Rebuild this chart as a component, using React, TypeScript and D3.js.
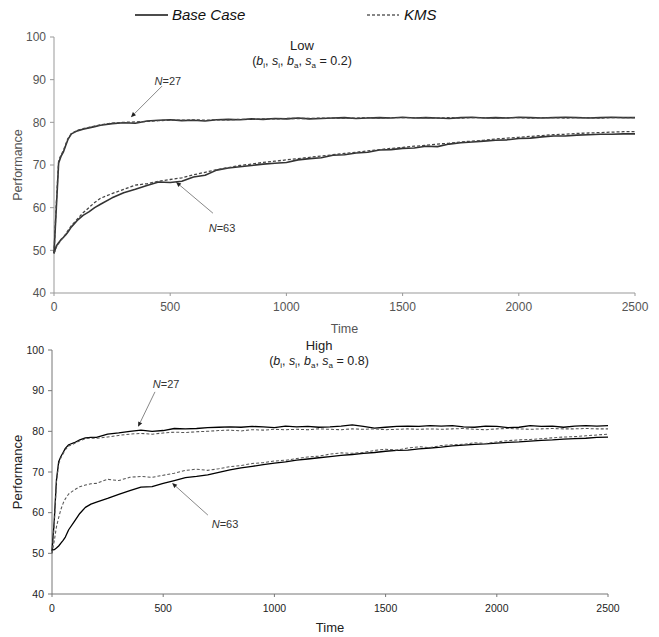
import React from "react";
import * as d3 from "d3";

const times = [0,10,20,30,40,50,60,75,100,125,150,175,200,250,300,350,400,450,500,550,600,650,700,750,800,850,900,950,1000,1050,1100,1150,1200,1250,1300,1350,1400,1450,1500,1550,1600,1650,1700,1750,1800,1850,1900,1950,2000,2050,2100,2150,2200,2250,2300,2350,2400,2450,2500];

const xTicks = [0, 500, 1000, 1500, 2000, 2500];
const yTicks = [40, 50, 60, 70, 80, 90, 100];

// Low panel
const low27Base = [49.3,60,70.5,72,73,74.5,76,77.3,78,78.4,78.7,79,79.3,79.7,79.9,79.8,80.3,80.5,80.6,80.4,80.5,80.3,80.6,80.7,80.6,80.8,80.7,80.9,80.8,81.0,80.8,80.9,81.0,81.1,80.9,81.0,81.1,81.0,81.2,81.0,81.1,81.0,80.9,81.1,81.2,81.0,81.1,81.0,81.2,81.1,81.0,81.1,81.2,81.1,81.0,81.1,81.2,81.1,81.1];
const low27Kms = [49.3,61,71,72.3,73.3,74.8,76.2,77.4,78.1,78.5,78.8,79.1,79.4,79.8,80.0,80.1,80.2,80.4,80.5,80.5,80.6,80.5,80.6,80.6,80.7,80.7,80.8,80.8,80.9,80.9,80.9,81.0,81.0,81.0,81.0,81.1,81.0,81.1,81.1,81.1,81.1,81.0,81.1,81.0,81.1,81.1,81.0,81.1,81.1,81.0,81.1,81.1,81.0,81.1,81.1,81.0,81.1,81.1,81.1];
const low63Base = [49.3,51,51.8,52.5,53,53.6,54.3,55.5,57,58.2,59,60,60.8,62.3,63.5,64.3,65.2,66,65.9,66.2,67.2,67.6,68.8,69.3,69.6,69.9,70.2,70.4,70.6,71.2,71.5,71.7,72.3,72.4,72.8,73.0,73.5,73.6,73.9,74.0,74.4,74.3,74.9,75.2,75.4,75.6,75.8,75.9,76.2,76.3,76.6,76.8,76.8,77.0,77.1,77.2,77.2,77.3,77.3];
const low63Kms = [49.3,50.8,51.6,52.4,53,53.8,54.6,55.8,57.3,58.8,60,61.2,62.2,63.3,64.3,65.3,65.6,66.2,66.6,67.0,67.7,68.3,68.9,69.4,69.9,70.2,70.6,70.9,71.2,71.5,71.8,72.1,72.4,72.7,73.0,73.3,73.6,73.9,74.1,74.4,74.6,74.9,75.1,75.4,75.6,75.8,76.1,76.3,76.5,76.7,76.9,77.1,77.2,77.4,77.5,77.6,77.7,77.8,77.8];

// High panel
const high27Base = [50.5,58,68,72.5,73.8,74.8,75.8,76.7,77.2,77.9,78.4,78.5,78.5,79.3,79.6,80.0,80.3,80.0,80.2,80.7,80.6,80.7,80.9,81.0,81.1,81.0,81.2,81.1,80.9,81.3,81.1,81.2,81.0,81.1,81.3,81.6,81.2,80.8,81.0,81.2,81.3,81.2,81.4,81.3,81.4,81.1,81.0,81.3,81.2,80.9,81.0,81.4,81.2,81.3,81.0,81.3,81.4,81.3,81.4];
const high27Kms = [50,57,67.5,72,73.5,74.5,75.5,76.4,77.0,77.7,78.2,78.3,78.3,78.6,79.0,79.3,79.5,79.3,79.6,79.8,79.7,79.9,80.0,80.2,80.3,80.1,80.4,80.3,80.5,80.4,80.5,80.4,80.6,80.5,80.4,80.6,80.5,80.6,80.4,80.5,80.6,80.5,80.6,80.5,80.6,80.7,80.5,80.4,80.6,80.7,80.6,80.5,80.6,80.7,80.6,80.6,80.7,80.6,80.6];
const high63Base = [50.8,50.9,51.3,51.8,52.5,53.2,54,55.8,57.8,59.8,61.3,62.1,62.6,63.5,64.5,65.4,66.3,66.4,67.2,67.9,68.6,68.9,69.3,69.9,70.5,71.0,71.4,71.8,72.2,72.5,72.9,73.2,73.5,73.8,74.1,74.3,74.6,74.8,75.1,75.3,75.4,75.7,75.9,76.1,76.4,76.6,76.8,76.9,77.1,77.3,77.4,77.6,77.8,77.9,78.1,78.2,78.3,78.5,78.6];
const high63Kms = [50,53,56.5,58.8,60.8,62.3,63.4,64.6,65.6,66.4,66.8,67.1,67.2,68.2,67.9,68.7,68.9,68.7,69.2,69.7,70.4,70.7,70.4,70.8,71.3,71.6,72.1,72.3,72.7,72.9,73.3,73.7,73.9,74.4,74.7,74.6,74.8,75.3,75.6,75.4,75.9,76.2,76.0,76.5,76.7,76.8,77.2,77.0,77.4,77.7,77.9,78.0,78.2,78.4,78.6,78.7,78.9,79.1,79.3];

// annotation anchors in data units: [tipT, tipV, tailT, tailV, labelT, labelV]
const lowNotes = [
  { label: "27", a: [331, 81.2, 465, 88.5, 490, 89.6] },
  { label: "63", a: [525, 66.0, 684, 58.7, 723, 55.2] },
];
const highNotes = [
  { label: "27", a: [387, 81.1, 463, 89.7, 513, 91.6] },
  { label: "63", a: [540, 67.3, 701, 59.4, 778, 57.2] },
];

type PanelProps = {
  x0: number; x1: number; yTop: number; yBot: number;
  series: { vals: number[]; dashed: boolean }[];
  notes: { label: string; a: number[] }[];
  title: string; sub: string; titleX: number; titleY: number;
  tickSize: number; tickColor: string; axisColor: string;
  lineW: number; kmsColor: string; baseColor: string;
  timeY: number; perfX: number; labelFont: number; labelColor: string;
};

function Panel(p: PanelProps) {
  const x = d3.scaleLinear().domain([0, 2500]).range([p.x0, p.x1]);
  const y = d3.scaleLinear().domain([40, 100]).range([p.yBot, p.yTop]);
  const line = d3.line<number>().x((_, i) => x(times[i])).y((v) => y(v)).curve(d3.curveLinear);
  const font = "Arial, 'Liberation Sans', sans-serif";
  const midY = (p.yTop + p.yBot) / 2;
  return (
    <g fontFamily={font}>
      <line x1={p.x0} x2={p.x0} y1={p.yTop} y2={p.yBot} stroke={p.axisColor} strokeWidth={1} />
      <line x1={p.x0} x2={p.x1} y1={p.yBot} y2={p.yBot} stroke={p.axisColor} strokeWidth={1} />
      {yTicks.map((t) => (
        <g key={"y" + t}>
          <line x1={p.x0 - 4} x2={p.x0} y1={y(t)} y2={y(t)} stroke={p.axisColor} />
          <text x={p.x0 - 8} y={y(t)} dy="0.35em" textAnchor="end" fontSize={p.tickSize} fill={p.tickColor}>{t}</text>
        </g>
      ))}
      {xTicks.map((t) => (
        <g key={"x" + t}>
          <line x1={x(t)} x2={x(t)} y1={p.yBot} y2={p.yBot + 3} stroke={p.axisColor} />
          <text x={x(t)} y={p.yBot + 18} textAnchor="middle" fontSize={p.tickSize} fill={p.tickColor}>{t}</text>
        </g>
      ))}
      <text x={(p.x0 + p.x1) / 2} y={p.timeY} textAnchor="middle" fontSize={p.labelFont} fill={p.labelColor}>Time</text>
      <text transform={`translate(${p.perfX},${midY}) rotate(-90)`} textAnchor="middle" fontSize={p.labelFont} fill={p.labelColor}>Performance</text>
      <text x={p.titleX} y={p.titleY} textAnchor="middle" fontSize={13} fill="#222">{p.title}</text>
      <text x={p.titleX} y={p.titleY + 15} textAnchor="middle" fontSize={12.5} fill="#222">
        (<tspan fontStyle="italic">b</tspan><tspan fontSize={8} dy={3}>i</tspan><tspan dy={-3}>, </tspan>
        <tspan fontStyle="italic">s</tspan><tspan fontSize={8} dy={3}>i</tspan><tspan dy={-3}>, </tspan>
        <tspan fontStyle="italic">b</tspan><tspan fontSize={8} dy={3}>a</tspan><tspan dy={-3}>, </tspan>
        <tspan fontStyle="italic">s</tspan><tspan fontSize={8} dy={3}>a</tspan><tspan dy={-3}> = {p.sub})</tspan>
      </text>
      {p.series.map((s, i) => (
        <path key={i} d={line(s.vals) || ""} fill="none"
          stroke={s.dashed ? p.kmsColor : p.baseColor}
          strokeWidth={s.dashed ? p.lineW * 0.8 : p.lineW}
          strokeDasharray={s.dashed ? "3,2" : undefined} strokeLinejoin="round" />
      ))}
      {p.notes.map((n, i) => {
        const [tt, tv, lt, lv, xt, xv] = n.a;
        const tx = x(tt), ty = y(tv), ax = x(lt), ay = y(lv);
        const ang = Math.atan2(ty - ay, tx - ax);
        const hl = 5, hw = 2.2;
        const bx = tx - hl * Math.cos(ang), by = ty - hl * Math.sin(ang);
        const px = -Math.sin(ang) * hw, py = Math.cos(ang) * hw;
        return (
          <g key={"n" + i}>
            <line x1={ax} y1={ay} x2={bx} y2={by} stroke="#888" strokeWidth={1} />
            <path d={`M${tx},${ty}L${bx + px},${by + py}L${bx - px},${by - py}Z`} fill="#222" />
            <text x={x(xt)} y={y(xv)} dy="0.35em" textAnchor="middle" fontSize={11} fill="#333">
              <tspan fontStyle="italic">N</tspan>={n.label}
            </text>
          </g>
        );
      })}
    </g>
  );
}

export default function App() {
  return (
    <svg width={659} height={637} style={{ position: "absolute", left: 0, top: 0, background: "#fff" }}>
      <rect width={659} height={637} fill="#fff" />
      <g fontFamily="Arial, 'Liberation Sans', sans-serif">
        <line x1={135} x2={168} y1={15} y2={15} stroke="#111" strokeWidth={1.5} />
        <text x={172} y={20} fontSize={15} fontStyle="italic" fill="#111">Base Case</text>
        <line x1={367} x2={399} y1={15} y2={15} stroke="#111" strokeWidth={1.2} strokeDasharray="3,2" />
        <text x={404} y={20} fontSize={15} fontStyle="italic" fill="#111">KMS</text>
      </g>
      <Panel x0={54} x1={635} yTop={37} yBot={293}
        series={[{ vals: low27Base, dashed: false }, { vals: low27Kms, dashed: true }, { vals: low63Base, dashed: false }, { vals: low63Kms, dashed: true }]}
        notes={lowNotes} title="Low" sub="0.2" titleX={302} titleY={50}
        tickSize={12} tickColor="#555" axisColor="#999" lineW={1.6} kmsColor="#444" baseColor="#333"
        timeY={333} perfX={22} labelFont={12.5} labelColor="#555" />
      <Panel x0={52} x1={608} yTop={350} yBot={594}
        series={[{ vals: high27Base, dashed: false }, { vals: high27Kms, dashed: true }, { vals: high63Base, dashed: false }, { vals: high63Kms, dashed: true }]}
        notes={highNotes} title="High" sub="0.8" titleX={319} titleY={350}
        tickSize={10.5} tickColor="#222" axisColor="#777" lineW={1.3} kmsColor="#555" baseColor="#000"
        timeY={632} perfX={22} labelFont={13} labelColor="#222" />
    </svg>
  );
}
